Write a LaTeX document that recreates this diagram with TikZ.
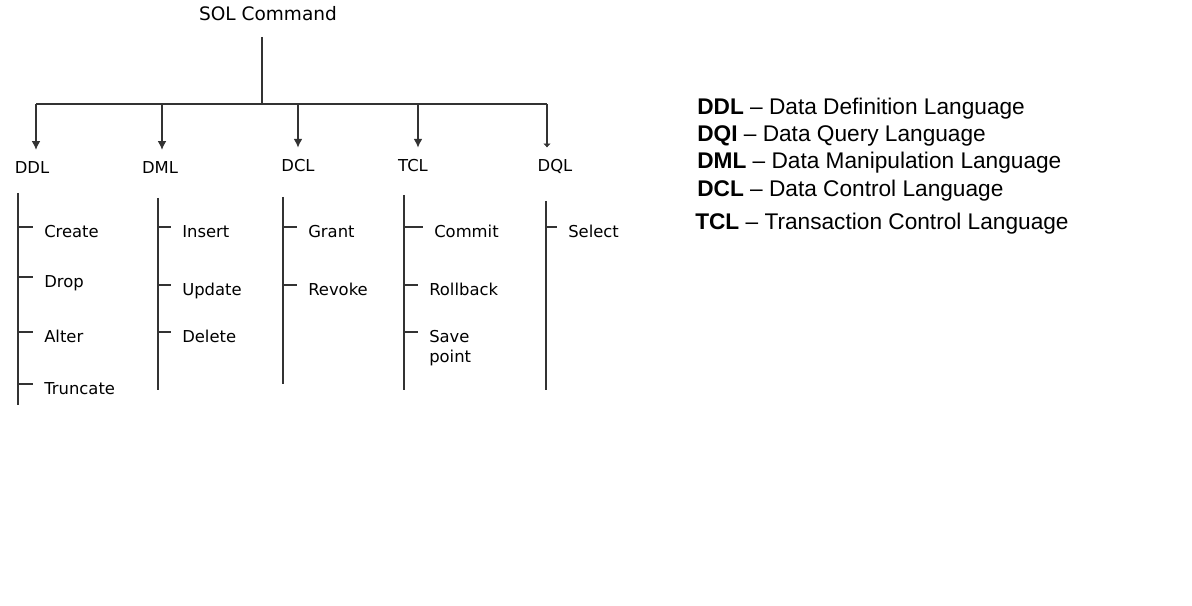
\documentclass[tikz,border=0pt]{standalone}
\usepackage{fontspec}
\setmainfont{DejaVu Sans}
\newfontfamily\legendfont{Liberation Sans}
\usetikzlibrary{arrows.meta}

\tikzset{
  wire/.style={draw=black!80, line width=0.8pt},
  drop/.style={wire, -{Latex[length=6.5pt,width=6.5pt]}, shorten >=9pt},
  cat/.style={font=\fontsize{12.3}{15}\selectfont, anchor=base, inner sep=0pt},
  item/.style={font=\fontsize{12.3}{15}\selectfont, anchor=base west, inner sep=0pt,
    text height=15pt, text depth=0pt},
  legend/.style={font=\legendfont\fontsize{17}{20}\selectfont, anchor=base west, inner sep=0pt},
}

\begin{document}
\begin{tikzpicture}[x=0.75pt,y=-0.75pt]
  \useasboundingbox (0,0) rectangle (1192,606);
  % root and bus
  \node[font=\fontsize{13.9}{16}\selectfont, anchor=base, inner sep=0pt] (sql) at (268,21) {SOL Command};
  \coordinate (stem) at (262,37);
  \coordinate (hub) at (262,104);
  \coordinate (ddl-drop) at (36,104);
  \coordinate (dml-drop) at (162,104);
  \coordinate (dcl-drop) at (298,104);
  \coordinate (tcl-drop) at (418,104);
  \coordinate (dql-drop) at (547,104);
  % the five kinds
  \node[cat] (ddl) at (32,174) {DDL};
  \node[cat] (dml) at (160,174) {DML};
  \node[cat] (dcl) at (298,172) {DCL};
  \node[cat] (tcl) at (413,172) {TCL};
  \node[cat] (dql) at (555,172) {DQL};
  % bars
  \coordinate (ddl-top) at (18,193);  \coordinate (ddl-bot) at (18,405);
  \coordinate (dml-top) at (158,198); \coordinate (dml-bot) at (158,390);
  \coordinate (dcl-top) at (283,197); \coordinate (dcl-bot) at (283,384);
  \coordinate (tcl-top) at (404,195); \coordinate (tcl-bot) at (404,390);
  \coordinate (dql-top) at (546,201); \coordinate (dql-bot) at (546,390);
  % commands
  \node[item] (create) at (44,237) {Create};
  \node[item] (dropc) at (44,287) {Drop};
  \node[item] (alter) at (44,342) {Alter};
  \node[item] (truncate) at (44,394) {Truncate};
  \node[item] (insert) at (182,237) {Insert};
  \node[item] (update) at (182,295) {Update};
  \node[item] (delete) at (182,342) {Delete};
  \node[item] (grant) at (308,237) {Grant};
  \node[item] (revoke) at (308,295) {Revoke};
  \node[item] (commit) at (434,237) {Commit};
  \node[item] (rollback) at (429,295) {Rollback};
  \node[item] (savepoint) at (429,342) {\vtop{\hbox{Save}\hbox{point}}};
  \node[item] (select) at (568,237) {Select};

  \draw[wire] (stem) -- (hub);
  \draw[wire] (ddl-drop) -- (dql-drop);
  \foreach \c in {ddl,dml,dcl,tcl}
    \draw[drop] (\c-drop) -- (\c-drop |- \c.north);
  \draw[wire, -{Latex[length=3pt,width=6pt]}, shorten >=9pt] (dql-drop) -- (dql-drop |- dql.north);
  \foreach \c in {ddl,dml,dcl,tcl,dql}
    \draw[wire] (\c-top) -- (\c-bot);
  \foreach \b/\i in {ddl/create,ddl/dropc,ddl/alter,ddl/truncate,dml/insert,dml/update,dml/delete,
      dcl/grant,dcl/revoke,tcl/commit,tcl/rollback,tcl/savepoint,dql/select}
    \draw[wire, shorten >=8pt] (\b-top |- \i.west) -- (\i.west);

  % legend
  \node[legend] (l-ddl) at (697,115) {\textbf{DDL} \textendash{} Data Definition Language};
  \node[legend] (l-dqi) at (697,142) {\textbf{DQI} \textendash{} Data Query Language};
  \node[legend] (l-dml) at (697,169) {\textbf{DML} \textendash{} Data Manipulation Language};
  \node[legend] (l-dcl) at (697,196) {\textbf{DCL} \textendash{} Data Control Language};
  \node[legend] (l-tcl) at (695,229) {\textbf{TCL} \textendash{} Transaction Control Language};
\end{tikzpicture}
\end{document}
